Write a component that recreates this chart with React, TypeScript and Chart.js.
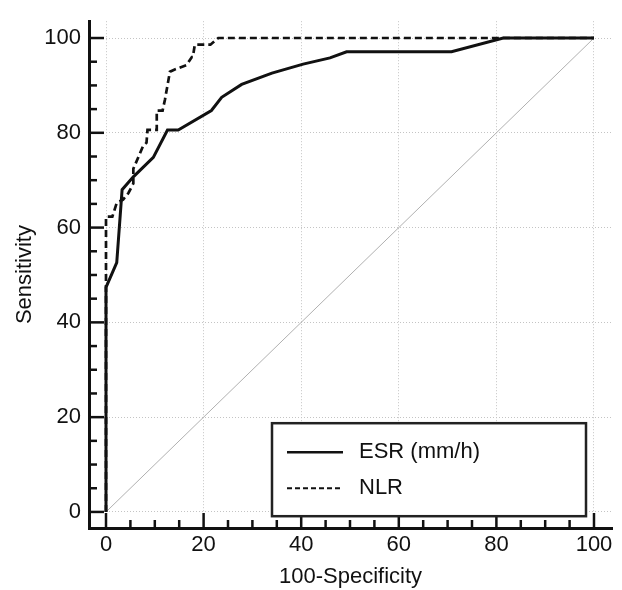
import React, { useEffect, useRef } from "react";
import { Chart, registerables } from "chart.js";

Chart.register(...registerables);

const FONT = "'Liberation Sans', Arial, Helvetica, sans-serif";
const INK = "#111111";
const FS = 22;

const tickValues = [0, 20, 40, 60, 80, 100];
const minorStep = 5;

const esrX = [0, 0, 2.2, 3.3, 5.6, 9.7, 12.6, 14.8, 21.6, 23.7, 27.8, 34, 40.4, 45.9, 49.3, 70.8, 81.4, 100];
const esrY = [0, 47.4, 52.6, 68, 70.7, 74.8, 80.6, 80.6, 84.7, 87.5, 90.2, 92.6, 94.5, 95.8, 97.1, 97.1, 100, 100];

const nlrX = [0, 0, 1.3, 2.2, 3.5, 4.6, 5.6, 5.6, 7.6, 8.3, 8.5, 10.4, 10.4, 11.6, 12.1, 13.1, 14.2, 16.5, 17.6, 17.8, 18.2, 21.4, 23.0, 100];
const nlrY = [0, 62.3, 62.3, 65.2, 65.9, 67.3, 69.3, 72.4, 77.2, 77.9, 80.6, 80.6, 84.7, 84.7, 87.1, 92.9, 93.4, 94.3, 96.0, 96.0, 98.6, 98.6, 100, 100];

const diagX = [0, 100];
const diagY = [0, 100];

const seriesLabels = ["ESR (mm/h)", "NLR"];
const xTitle = "100-Specificity";
const yTitle = "Sensitivity";

const toPoints = (xs: number[], ys: number[]) => xs.map((x, i) => ({ x, y: ys[i] }));

const innerTicks = {
  id: "innerTicks",
  afterDraw(chart: any) {
    const { ctx, scales } = chart;
    const xs = scales.x;
    const ys = scales.y;
    const ca = chart.chartArea;
    ctx.save();
    ctx.strokeStyle = INK;
    ctx.lineWidth = 2.5;
    for (let v = 0; v <= 100; v += minorStep) {
      const major = v % 20 === 0;
      const len = major ? 15 : 8;
      const px = xs.getPixelForValue(v);
      ctx.beginPath();
      ctx.moveTo(px, ca.bottom);
      ctx.lineTo(px, ca.bottom - len);
      ctx.stroke();
      const py = ys.getPixelForValue(v);
      ctx.beginPath();
      ctx.moveTo(ca.left, py);
      ctx.lineTo(ca.left + len, py);
      ctx.stroke();
    }
    ctx.restore();
  },
};

const boxLegend = {
  id: "boxLegend",
  afterDraw(chart: any) {
    const { ctx } = chart;
    const ca = chart.chartArea;
    const left = ca.left + 183;
    const top = ca.top + 402;
    const w = 314;
    const h = 93;
    ctx.save();
    ctx.fillStyle = "#ffffff";
    ctx.fillRect(left, top, w, h);
    ctx.strokeStyle = "#222222";
    ctx.lineWidth = 2.5;
    ctx.strokeRect(left, top, w, h);
    const rows = [
      { y: top + 29, ds: chart.data.datasets[0] },
      { y: top + 65, ds: chart.data.datasets[1] },
    ];
    rows.forEach((r) => {
      const dashed = r.ds.borderDash && r.ds.borderDash.length;
      ctx.beginPath();
      ctx.strokeStyle = INK;
      ctx.lineWidth = dashed ? 2 : 2.6;
      ctx.setLineDash(dashed ? [5, 3] : []);
      ctx.moveTo(left + 15, r.y);
      ctx.lineTo(left + 71, r.y);
      ctx.stroke();
      ctx.setLineDash([]);
      ctx.fillStyle = INK;
      ctx.font = `${FS}px ${FONT}`;
      ctx.textBaseline = "middle";
      ctx.textAlign = "left";
      ctx.fillText(r.ds.label, left + 87, r.y);
    });
    ctx.restore();
  },
};

export default function App() {
  const ref = useRef<HTMLCanvasElement | null>(null);

  useEffect(() => {
    if (!ref.current) return;
    const chart = new Chart(ref.current, {
      type: "scatter",
      data: {
        datasets: [
          {
            label: seriesLabels[0],
            data: toPoints(esrX, esrY),
            showLine: true,
            borderColor: INK,
            borderWidth: 3,
            pointRadius: 0,
            tension: 0,
          },
          {
            label: seriesLabels[1],
            data: toPoints(nlrX, nlrY),
            showLine: true,
            borderColor: INK,
            borderWidth: 2.7,
            borderDash: [7, 4],
            pointRadius: 0,
            tension: 0,
          },
          {
            label: "ref",
            data: toPoints(diagX, diagY),
            showLine: true,
            borderColor: "#b0b0b0",
            borderWidth: 1,
            pointRadius: 0,
          },
        ],
      },
      options: {
        animation: false,
        responsive: false,
        maintainAspectRatio: false,
        layout: { padding: { top: 7, right: 10, left: 0, bottom: 0 } },
        plugins: {
          legend: { display: false },
          tooltip: { enabled: false },
        },
        scales: {
          x: {
            type: "linear",
            min: -3.484,
            max: 103.69,
            afterBuildTicks: (s: any) => {
              s.ticks = tickValues.map((v) => ({ value: v }));
            },
            afterFit: (s: any) => {
              s.height = 62;
            },
            grid: { color: "#c4c4c4", lineWidth: 1, drawTicks: false },
            border: { display: true, color: INK, width: 3, dash: [1, 2] },
            ticks: {
              padding: 4,
              color: INK,
              font: { family: FONT, size: FS },
              maxRotation: 0,
              autoSkip: false,
            },
            title: {
              display: true,
              text: xTitle,
              color: INK,
              font: { family: FONT, size: FS, lineHeight: 1.2 },
              padding: { top: 0, bottom: 0 },
            },
          },
          y: {
            type: "linear",
            min: -3.39,
            max: 103.55,
            afterBuildTicks: (s: any) => {
              s.ticks = tickValues.map((v) => ({ value: v }));
            },
            afterFit: (s: any) => {
              s.width = 89;
            },
            grid: { color: "#c4c4c4", lineWidth: 1, drawTicks: false },
            border: { display: true, color: INK, width: 3, dash: [1, 2] },
            ticks: {
              padding: 8,
              color: INK,
              font: { family: FONT, size: FS },
              autoSkip: false,
            },
            title: {
              display: true,
              text: yTitle,
              color: INK,
              font: { family: FONT, size: FS, lineHeight: 1.2 },
              padding: { top: 12, bottom: 0 },
            },
          },
        },
      },
      plugins: [innerTicks, boxLegend],
    });
    return () => chart.destroy();
  }, []);

  return (
    <div style={{ position: "fixed", left: 0, top: 0, width: 622, height: 590, background: "#fff" }}>
      <canvas ref={ref} width={622} height={590} style={{ width: 622, height: 590, display: "block" }} />
    </div>
  );
}
